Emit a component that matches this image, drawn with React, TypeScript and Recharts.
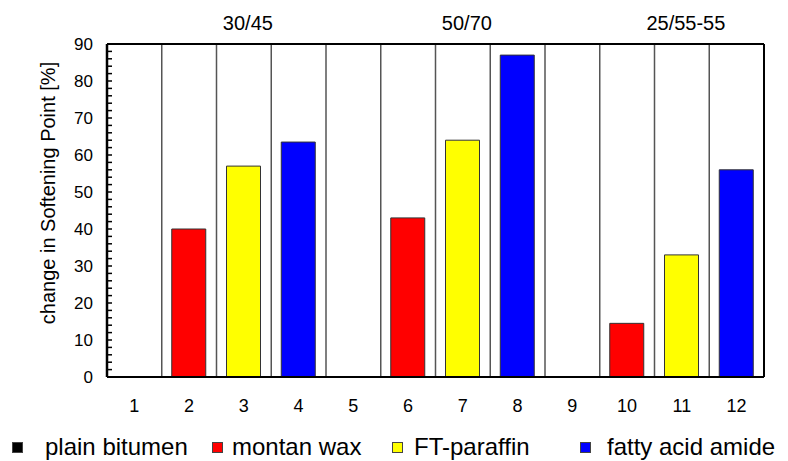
import React from 'react';
import { BarChart, Bar, XAxis, YAxis, Cell, CartesianGrid, Legend, Label } from 'recharts';

// Sample numbers along the x axis
const categories = ['1', '2', '3', '4', '5', '6', '7', '8', '9', '10', '11', '12'];
// Change in softening point [%] per sample
const softeningChange = [0, 40, 57, 63.5, 0, 43, 64, 87, 0, 14.5, 33, 56];
// Additive used in each sample
const additives = [
  'plain bitumen', 'montan wax', 'FT-paraffin', 'fatty acid amide',
  'plain bitumen', 'montan wax', 'FT-paraffin', 'fatty acid amide',
  'plain bitumen', 'montan wax', 'FT-paraffin', 'fatty acid amide',
];
// Bitumen grades, one per group of four samples, labelled over the given sample
const bitumenGrades = ['30/45', '50/70', '25/55-55'];
const gradeLabelAt = ['3', '7', '11'];
// Legend entries
const legendNames = ['plain bitumen', 'montan wax', 'FT-paraffin', 'fatty acid amide'];
const legendColors = ['#000000', '#ff0000', '#ffff00', '#0000ff'];
// Labelled y ticks
const yMajorTicks = [0, 10, 20, 30, 40, 50, 60, 70, 80, 90];

const FONT = '"Liberation Sans", Arial, sans-serif';
const W = 788;
const H = 461;
const Y_TICK_MARGIN = 14;

const colorOf: Record<string, string> = {};
legendNames.forEach((n, i) => { colorOf[n] = legendColors[i]; });

const data = categories.map((c, i) => ({
  category: c,
  value: softeningChange[i],
  additive: additives[i],
}));

// small inward ticks every 2 %, labels every 10 %
const yTicks: number[] = [];
for (let v = 0; v <= 90; v += 2) yTicks.push(v);

// y tick: short inward mark at the axis, number only on the labelled ticks
const YTick = (props: any) => {
  const { x, y, payload } = props;
  const axisX = x + Y_TICK_MARGIN;
  return (
    <g>
      <line x1={axisX} x2={axisX + 5} y1={y} y2={y} stroke="#000" strokeWidth={1.5} />
      {yMajorTicks.includes(payload.value) && (
        <text x={x} y={y} dy={6} textAnchor="end" fontSize={17} fontFamily={FONT} fill="#000">
          {payload.value}
        </text>
      )}
    </g>
  );
};

// vertical separators on the category boundaries
const boundaryLines = ({ offset }: any) => {
  const n = categories.length;
  const xs: number[] = [];
  for (let i = 0; i <= n; i++) xs.push(offset.left + (offset.width * i) / n);
  return xs;
};

const LegendContent = () => {
  const lefts = [12, 212, 392, 580];
  const textGap = [22, 9, 11, 16];
  return (
    <div style={{ position: 'relative', height: 44, width: W, fontFamily: FONT }}>
      {legendNames.map((n, i) => (
        <div key={n} style={{ position: 'absolute', left: lefts[i], top: 16, display: 'flex', alignItems: 'center', whiteSpace: 'nowrap' }}>
          <span style={{ display: 'inline-block', width: 11, height: 11, background: legendColors[i], border: '1px solid #444', boxSizing: 'border-box' }} />
          <span style={{ marginLeft: textGap[i], fontSize: 24, color: '#000', lineHeight: '28px' }}>{n}</span>
        </div>
      ))}
    </div>
  );
};

export default function App() {
  return (
    <div style={{ position: 'absolute', left: 0, top: 0, width: W, height: H, background: '#fff' }}>
      <BarChart width={W} height={H} data={data} margin={{ top: 0, right: 0, bottom: 0, left: 0 }} barSize={34}>
        <CartesianGrid
          xAxisId="cat"
          horizontal={false}
          stroke="#555"
          strokeWidth={1.5}
          verticalCoordinatesGenerator={boundaryLines}
        />
        <XAxis
          xAxisId="cat"
          dataKey="category"
          height={40}
          axisLine={{ stroke: '#000', strokeWidth: 2 }}
          tickLine={false}
          tickMargin={16}
          tick={{ fontSize: 18, fontFamily: FONT, fill: '#000' }}
          interval={0}
        />
        <XAxis
          xAxisId="grade"
          orientation="top"
          dataKey="category"
          interval={0}
          tickFormatter={(c: string) => {
            const k = gradeLabelAt.indexOf(c);
            return k >= 0 ? bitumenGrades[k] : '';
          }}
          height={44}
          axisLine={{ stroke: '#000', strokeWidth: 2 }}
          tickLine={false}
          tickMargin={8}
          tick={{ fontSize: 20, fontFamily: FONT, fill: '#000', dx: 4 }}
        />
        <YAxis
          domain={[0, 90]}
          ticks={yTicks}
          interval={0}
          width={107}
          axisLine={{ stroke: '#000', strokeWidth: 2.5 }}
          tickLine={false}
          tickSize={0}
          tickMargin={Y_TICK_MARGIN}
          tick={<YTick />}
        >
          <Label
            content={() => (
              <text
                x={0}
                y={0}
                transform="translate(48, 193) rotate(-90)"
                textAnchor="middle"
                dominantBaseline="central"
                fontSize={20}
                fontFamily={FONT}
                fill="#000"
              >
                change in Softening Point [%]
              </text>
            )}
          />
        </YAxis>
        <YAxis
          yAxisId="frame"
          orientation="right"
          domain={[0, 90]}
          width={24}
          tick={false}
          tickLine={false}
          axisLine={{ stroke: '#000', strokeWidth: 2 }}
        />
        <Legend verticalAlign="bottom" height={44} content={<LegendContent />} />
        <Bar xAxisId="cat" dataKey="value" stroke="#333" strokeWidth={1} isAnimationActive={false}>
          {data.map((d) => (
            <Cell key={d.category} fill={colorOf[d.additive]} />
          ))}
        </Bar>
      </BarChart>
    </div>
  );
}
